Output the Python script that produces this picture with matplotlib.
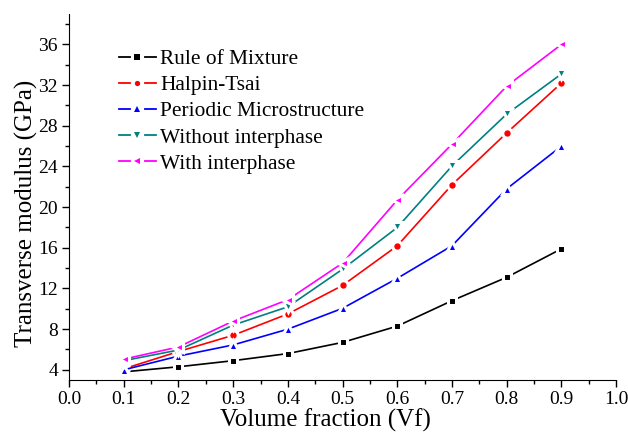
import matplotlib
matplotlib.use("Agg")
import matplotlib.pyplot as plt
from matplotlib.lines import Line2D
from matplotlib.legend_handler import HandlerBase
from matplotlib.ticker import MultipleLocator

plt.rcParams['font.family'] = ['Liberation Serif', 'DejaVu Serif']

vf = [0.1, 0.2, 0.3, 0.4, 0.5, 0.6, 0.7, 0.8, 0.9]
rule_of_mixture = [3.8, 4.3, 4.9, 5.6, 6.7, 8.3, 10.8, 13.1, 15.9]
halpin_tsai = [4.1, 5.8, 7.4, 9.5, 12.3, 16.2, 22.2, 27.3, 32.2]
periodic = [4.0, 5.35, 6.45, 8.0, 10.05, 13.0, 16.2, 21.8, 26.0]
without_inter = [4.9, 5.95, 8.4, 10.2, 13.9, 18.0, 24.05, 29.15, 33.1]
with_inter = [5.05, 6.25, 8.8, 10.9, 14.5, 20.7, 26.2, 31.9, 36.0]

labels = ["Rule of Mixture", "Halpin-Tsai", "Periodic Microstructure",
          "Without interphase", "With interphase"]
series = [rule_of_mixture, halpin_tsai, periodic, without_inter, with_inter]
colors = ["#000000", "#ff0000", "#0000ff", "#008080", "#ff00ff"]
markers = ["s", "o", "^", "v", "<"]
msizes = [6.3, 6.8, 7.8, 7.8, 7.8]


class DashMarkerHandler(HandlerBase):
    def create_artists(self, legend, orig_handle, xdescent, ydescent,
                       width, height, fontsize, trans):
        c = orig_handle.get_color()
        lw = orig_handle.get_linewidth()
        y = height / 2.0 - ydescent
        x0 = -xdescent
        seg = width * 0.29
        l1 = Line2D([x0, x0 + seg], [y, y], color=c, lw=lw)
        l2 = Line2D([x0 + width - seg, x0 + width], [y, y], color=c, lw=lw)
        mk = Line2D([x0 + width / 2.0], [y], color=c, ls='none',
                    marker=orig_handle.get_marker(),
                    markersize=orig_handle.get_markersize(),
                    markeredgewidth=0)
        for a in (l1, l2, mk):
            a.set_transform(trans)
        return [l1, l2, mk]


fig = plt.figure(figsize=(6.28, 4.33), dpi=100)
ax = fig.add_axes([0.110, 0.1224, 0.871, 0.8453])

handles = []
for i, (ys, c, m, ms) in enumerate(zip(series, colors, markers, msizes)):
    ax.plot(vf, ys, color=c, lw=1.2, marker=m, markersize=ms,
            markeredgecolor='white', markeredgewidth=2.2,
            markerfacecolor=c, zorder=2 + i)
    handles.append(Line2D([], [], color=c, lw=1.3, marker=m, markersize=3.8))

ax.set_xlim(0.0, 1.0)
ax.set_ylim(3, 39)
ax.xaxis.set_minor_locator(MultipleLocator(0.05))
ax.yaxis.set_minor_locator(MultipleLocator(2))
ax.set_yticks([4, 8, 12, 16, 20, 24, 28, 32, 36])
ax.set_xticks([round(0.1 * i, 1) for i in range(11)])
ax.set_xticklabels([f"{0.1 * i:.1f}" for i in range(11)])

ax.spines['top'].set_visible(False)
ax.spines['right'].set_visible(False)
ax.tick_params(which='major', direction='out', length=5, width=1, labelsize=14, pad=3)
ax.tick_params(which='minor', direction='out', length=3, width=1)

ax.set_xlabel("Volume fraction (Vf)", fontsize=18, labelpad=0, x=0.469)
ax.set_ylabel("Transverse modulus (GPa)", fontsize=18, labelpad=0, y=0.456)

ax.legend(handles, labels, loc='upper left', bbox_to_anchor=(0.0915, 0.904),
          frameon=False, fontsize=15.4, handlelength=1.71, handletextpad=0.22,
          labelspacing=0.29, borderaxespad=0, borderpad=0,
          handler_map={Line2D: DashMarkerHandler()})

fig.savefig("out.png", dpi=100)
